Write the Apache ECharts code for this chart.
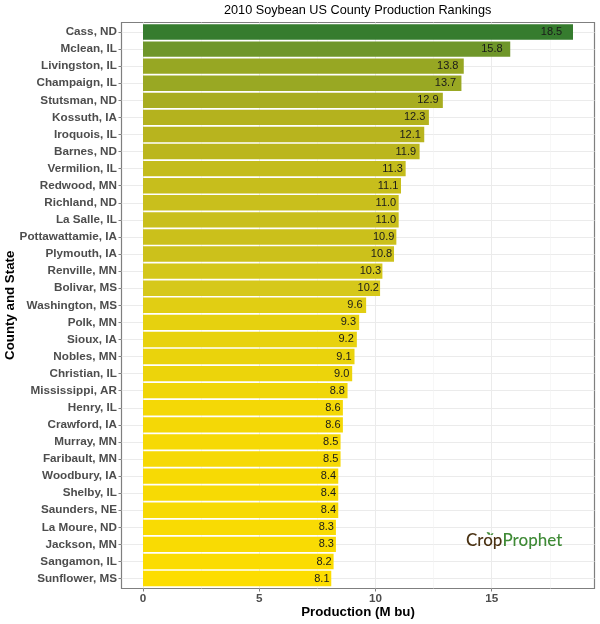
<!DOCTYPE html>
<html>
<head>
<meta charset="utf-8">
<style>html,body{margin:0;padding:0;background:#fff}#chart{width:600px;height:624px}</style>
<script src="https://cdn.jsdelivr.net/npm/echarts@6/dist/echarts.min.js"></script>
</head>
<body>
<div id="chart"></div>
<script>
var counties = ['Cass, ND','Mclean, IL','Livingston, IL','Champaign, IL','Stutsman, ND','Kossuth, IA','Iroquois, IL','Barnes, ND','Vermilion, IL','Redwood, MN','Richland, ND','La Salle, IL','Pottawattamie, IA','Plymouth, IA','Renville, MN','Bolivar, MS','Washington, MS','Polk, MN','Sioux, IA','Nobles, MN','Christian, IL','Mississippi, AR','Henry, IL','Crawford, IA','Murray, MN','Faribault, MN','Woodbury, IA','Shelby, IL','Saunders, NE','La Moure, ND','Jackson, MN','Sangamon, IL','Sunflower, MS'];
var production = [18.5,15.8,13.8,13.7,12.9,12.3,12.1,11.9,11.3,11.1,11.0,11.0,10.9,10.8,10.3,10.2,9.6,9.3,9.2,9.1,9.0,8.8,8.6,8.6,8.5,8.5,8.4,8.4,8.4,8.3,8.3,8.2,8.1];
var xTicks = [0,5,10,15];
var xMinor = [2.5,7.5,12.5,17.5];
var rampStops = ['#fddd00','#d6c81a','#b5b21e','#8ca325','#62902c','#367c2e'];

var xMin = -0.925, xMax = 19.425;
var panel = {left:121.5, top:22.5, width:473, height:566};
var bandH = 17.08;

var chart = echarts.init(document.getElementById('chart'), null, {renderer:'canvas'});
chart.setOption({
  animation: false,
  textStyle: {fontFamily:'"Liberation Sans", Arial, sans-serif'},
  title: {
    text: '2010 Soybean US County Production Rankings',
    left: 219, top: -1.5,
    textStyle: {fontSize:12.7, fontWeight:'normal', color:'#000'}
  },
  grid: [
    // panel with border and vertical grid
    {left:panel.left, top:panel.top, width:panel.width, height:panel.height, show:true, borderColor:'#7f7f7f', borderWidth:1.2, backgroundColor:'#fff', z:0, outerBoundsMode:'none'},
    // bars, 0.6 band padding like ggplot rather than 0.5
    {left:panel.left, top:32-bandH/2, width:panel.width, height:bandH*counties.length, outerBoundsMode:'none'}
  ],
  xAxis: [
    {
      gridIndex:0, type:'value', min:xMin, max:xMax,
      name:'Production (M bu)', nameLocation:'middle', nameGap:17, nameMoveOverlap:false,
      nameTextStyle:{fontSize:13.3, fontWeight:'bold', color:'#000'},
      axisLine:{show:false},
      axisTick:{show:true, length:3, customValues:xTicks, lineStyle:{color:'#7f7f7f', width:1}},
      axisLabel:{fontSize:11.7, fontWeight:'bold', color:'#4d4d4d', margin:4, customValues:xTicks},
      splitLine:{show:true, lineStyle:{color:'#ebebeb', width:1}},
      minorSplitLine:{show:false}
    },
    // second axis only for the thin half-way lines
    {
      gridIndex:0, type:'value', min:xMin, max:xMax, position:'top',
      axisLine:{show:false},
      axisTick:{show:false, customValues:xMinor},
      axisLabel:{show:false, customValues:xMinor},
      splitLine:{show:true, lineStyle:{color:'#f2f2f2', width:0.6}}
    },
    {gridIndex:1, type:'value', min:xMin, max:xMax, show:false}
  ],
  yAxis: [
    {gridIndex:0, type:'value', min:0, max:1, show:false, splitLine:{show:false}},
    {
      gridIndex:1, type:'category', inverse:true, data:counties,
      name:'County and State', nameLocation:'middle', nameGap:104.5, nameRotate:90, nameMoveOverlap:false,
      nameTextStyle:{fontSize:13.3, fontWeight:'bold', color:'#000'},
      axisLine:{show:false, onZero:false},
      axisTick:{show:true, length:3, alignWithLabel:true, lineStyle:{color:'#7f7f7f', width:1}},
      axisLabel:{fontSize:11.7, fontWeight:'bold', color:'#4d4d4d', margin:4.5, interval:0},
      splitLine:{show:true, alignWithLabel:true, interval:0, lineStyle:{color:'#ebebeb', width:1}}
    }
  ],
  visualMap: {
    show:false, type:'continuous', seriesIndex:0, dimension:0,
    min:8.1, max:18.5,
    inRange:{color:rampStops}
  },
  series: [{
    type:'bar', xAxisIndex:2, yAxisIndex:1,
    data: production.map(function (v, i) { return [v, counties[i]]; }),
    encode:{x:0, y:1},
    barWidth:'90%',
    label:{
      show:true, position:['95%','50%'], align:'center', verticalAlign:'middle',
      fontSize:11, color:'#1a1a1a',
      formatter:function (p) { return p.value[0].toFixed(1); }
    }
  }],
  graphic: [
    {type:'text', left:466, top:532, z:10, style:{
      text:'{a|Crop}{b|Prophet}',
      rich:{
        a:{fontFamily:'Lato', fontSize:17, fontWeight:500, fill:'#4a3213'},
        b:{fontFamily:'Lato', fontSize:17, fontWeight:500, fill:'#3f8a36'}
      }
    }},
    {type:'polygon', z:10, shape:{points:[[486.5,532],[489.5,532.5],[490.5,535],[488,534.5]]}, style:{fill:'#3f8a36'}},
    {type:'polygon', z:10, shape:{points:[[490.5,535],[491.5,533.5],[493.5,533],[492.5,535]]}, style:{fill:'#3f8a36'}}
  ]
});
</script>
</body>
</html>
